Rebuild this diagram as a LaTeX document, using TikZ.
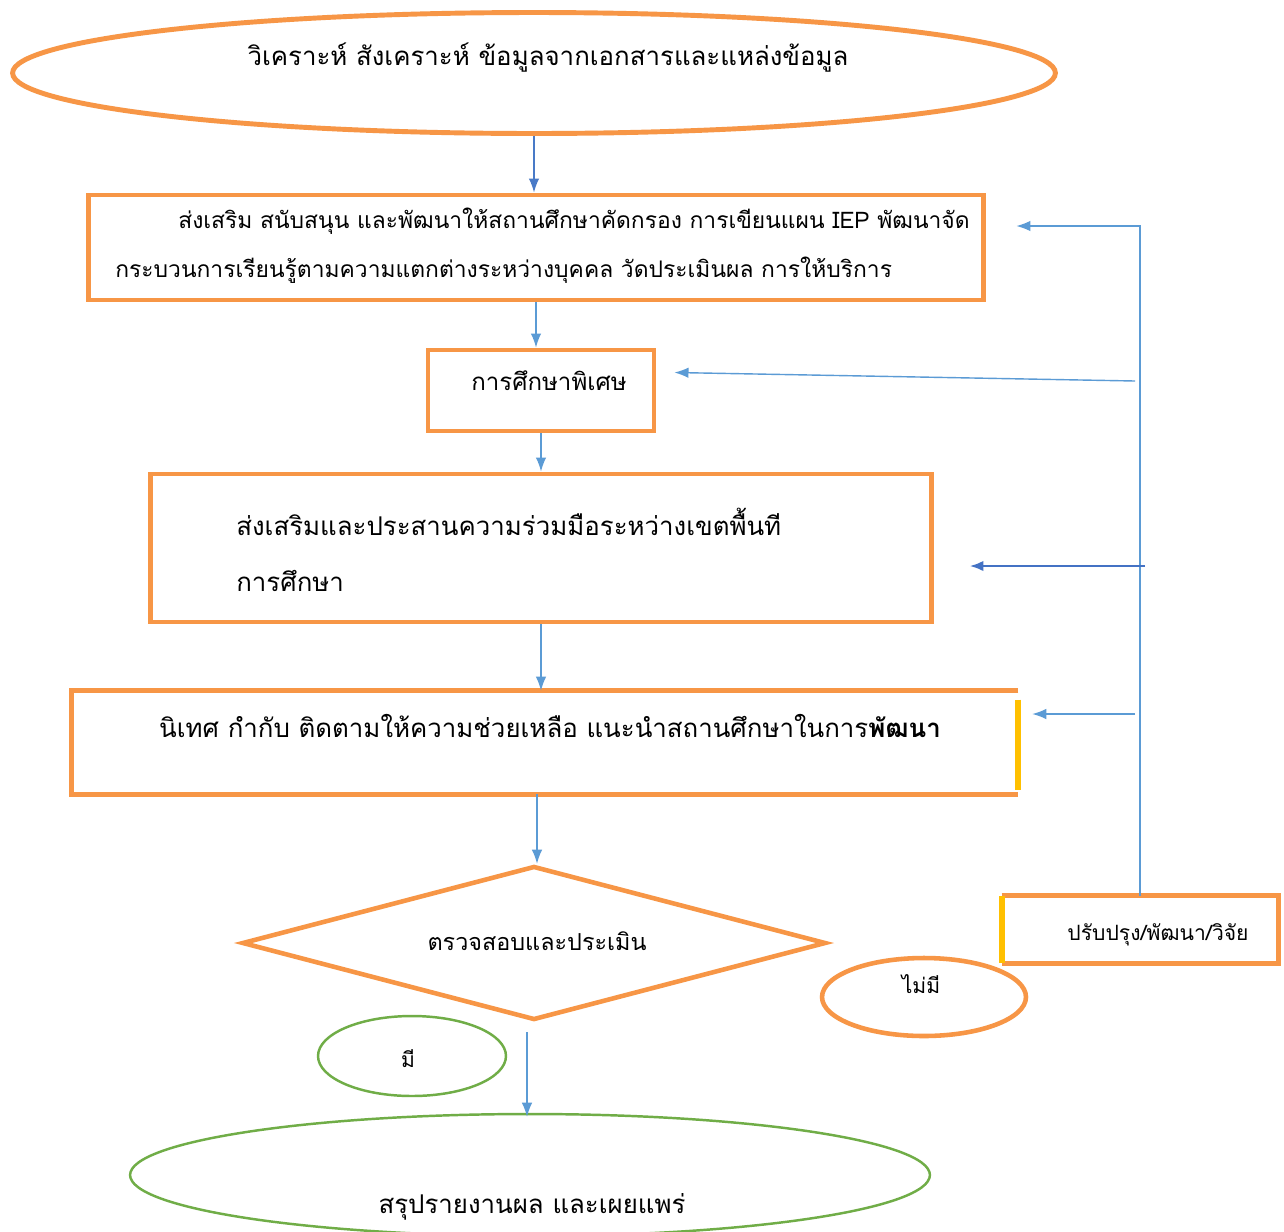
\documentclass[tikz,border=0pt]{standalone}
\usepackage{fontspec}
\newfontfamily\thaifont[Script=Thai]{Loma}
\usetikzlibrary{shapes.geometric,arrows.meta}
\definecolor{boxorange}{HTML}{F79646}
\definecolor{flowblue}{HTML}{5B9BD5}
\definecolor{deepblue}{HTML}{4472C4}
\definecolor{okgreen}{HTML}{70AD47}
\definecolor{edgeyellow}{HTML}{FFC000}
\tikzset{
  stepbox/.style={rectangle,draw=boxorange,line width=2.8pt,inner sep=0pt},
  openbox/.style={rectangle,inner sep=0pt},
  orangeedge/.style={draw=boxorange,line width=2.8pt},
  bigoval/.style={ellipse,draw=boxorange,line width=2.8pt,inner sep=0pt},
  greenoval/.style={ellipse,draw=okgreen,line width=1.4pt,inner sep=0pt},
  flow/.style={-{Latex[length=8pt,width=6pt]},draw=flowblue,line width=0.8pt},
  thaitext/.style={font=\thaifont\fontsize{14.7}{17}\selectfont,inner sep=0pt},
  smalltext/.style={font=\thaifont\fontsize{12}{15}\selectfont,inner sep=0pt},
}
\begin{document}
\begin{tikzpicture}[x=0.02cm,y=-0.02cm]
  \useasboundingbox (0,0) rectangle (1284,1231);
  \fill[white] (0,0) rectangle (1284,1231);

  % shapes
  \node[bigoval,minimum width=20.86cm,minimum height=2.42cm] (analyse) at (534,73) {};
  \node[stepbox,minimum width=17.92cm,minimum height=2.1cm] (promote) at (536,247.5) {};
  \node[stepbox,minimum width=4.52cm,minimum height=1.62cm] (special) at (541,390.5) {};
  \node[stepbox,minimum width=15.64cm,minimum height=2.96cm] (coop) at (541,548) {};
  \node[openbox,minimum width=18.92cm,minimum height=2.06cm] (supervise) at (545,742.5) {};
  \draw[orangeedge] (supervise.north east) -- (supervise.north west)
    -- (supervise.south west) -- (supervise.south east);
  \draw[edgeyellow,line width=3.2pt,shorten <=0.18cm,shorten >=0.08cm]
    (supervise.north east) -- (supervise.south east);
  \node[diamond,draw=boxorange,line width=2.6pt,inner sep=0pt,
        minimum width=11.68cm,minimum height=3.08cm] (check) at (534,943) {};
  \node[greenoval,minimum width=3.76cm,minimum height=1.6cm] (yes) at (412,1056) {};
  \node[greenoval,minimum width=16cm,minimum height=2.44cm] (report) at (530,1175) {};
  \node[bigoval,line width=2.6pt,minimum width=4.08cm,minimum height=1.56cm] (no) at (924,997) {};
  \node[openbox,minimum width=5.52cm,minimum height=1.34cm] (improve) at (1140,929.5) {};
  \draw[orangeedge] (improve.north west) -- (improve.north east)
    -- (improve.south east) -- (improve.south west);
  \draw[edgeyellow,line width=3.4pt] (improve.north west) -- (improve.south west);

  % texts
  \node[thaitext,anchor=base] (analysetxt) at (548,65)
    {วิเคราะห์ สังเคราะห์ ข้อมูลจากเอกสารและแหล่งข้อมูล};
  \node[thaitext,font=\thaifont\fontsize{13}{16}\selectfont,anchor=base west] (promotetxta) at (178,228)
    {ส่งเสริม สนับสนุน และพัฒนาให้สถานศึกษาคัดกรอง การเขียนแผน IEP พัฒนาจัด};
  \node[thaitext,font=\thaifont\fontsize{13}{16}\selectfont,anchor=base west] (promotetxtb) at (115,277)
    {กระบวนการเรียนรู้ตามความแตกต่างระหว่างบุคคล วัดประเมินผล การให้บริการ};
  \node[smalltext,font=\thaifont\fontsize{13.7}{16}\selectfont,anchor=base] (specialtxt) at (549,390) {การศึกษาพิเศษ};
  \node[thaitext,anchor=base west] (cooptxta) at (236,535)
    {ส่งเสริมและประสานความร่วมมือระหว่างเขตพื้นที};
  \node[thaitext,anchor=base west] (cooptxtb) at (236,591) {การศึกษา};
  \node[thaitext,anchor=base] (supervisetxt) at (550,737)
    {นิเทศ กำกับ ติดตามให้ความช่วยเหลือ แนะนำสถานศึกษาในการ{\bfseries พัฒนา}};
  \node[smalltext,font=\thaifont\fontsize{13.3}{16}\selectfont,anchor=base] (checktxt) at (537,950) {ตรวจสอบและประเมิน};
  \node[smalltext,anchor=base] (yestxt) at (408,1067) {มี};
  \node[thaitext,anchor=base] (reporttxt) at (532,1213) {สรุปรายงานผล และเผยแพร่};
  \node[smalltext,anchor=base] (notxt) at (921,993) {ไม่มี};
  \node[smalltext,anchor=base] (improvetxt) at (1158,940) {ปรับปรุง/พัฒนา/วิจัย};

  % main flow
  \draw[flow,draw=deepblue!80!flowblue] (analyse.south) -- (analyse.south |- promote.north);
  \draw[flow] (promote.south) -- (promote.south |- special.north);
  \draw[flow] (special.south) -- (special.south |- coop.north);
  \draw[flow] (coop.south) -- (coop.south |- supervise.north);
  \draw[flow] ([xshift=-0.16cm]supervise.south) -- ([xshift=-0.16cm]supervise.south |- check.north);
  \draw[flow,shorten >=0.12cm] ([shift={(-7,10)}]check.south) -- ([shift={(-7,10)}]check.south |- report.north);

  % feedback
  \coordinate (fbtop) at (1141,226);
  \coordinate (fbspecial) at (1135,381);
  \coordinate (fbcoop) at (1145,566);
  \coordinate (fbsuper) at (1135,714);
  \draw[flow,shorten >=0.6cm] (improve.north) -- (improve.north |- fbtop) -- (promote.east |- fbtop);
  \draw[flow] (fbspecial) -- ([shift={(18,-18)}]special.east);
  \draw[flow,draw=deepblue,line width=1.6pt,shorten >=0.7cm] (fbcoop) -- (coop.east |- fbcoop);
  \draw[flow,shorten >=0.28cm] (fbsuper) -- (supervise.east |- fbsuper);
\end{tikzpicture}
\end{document}
